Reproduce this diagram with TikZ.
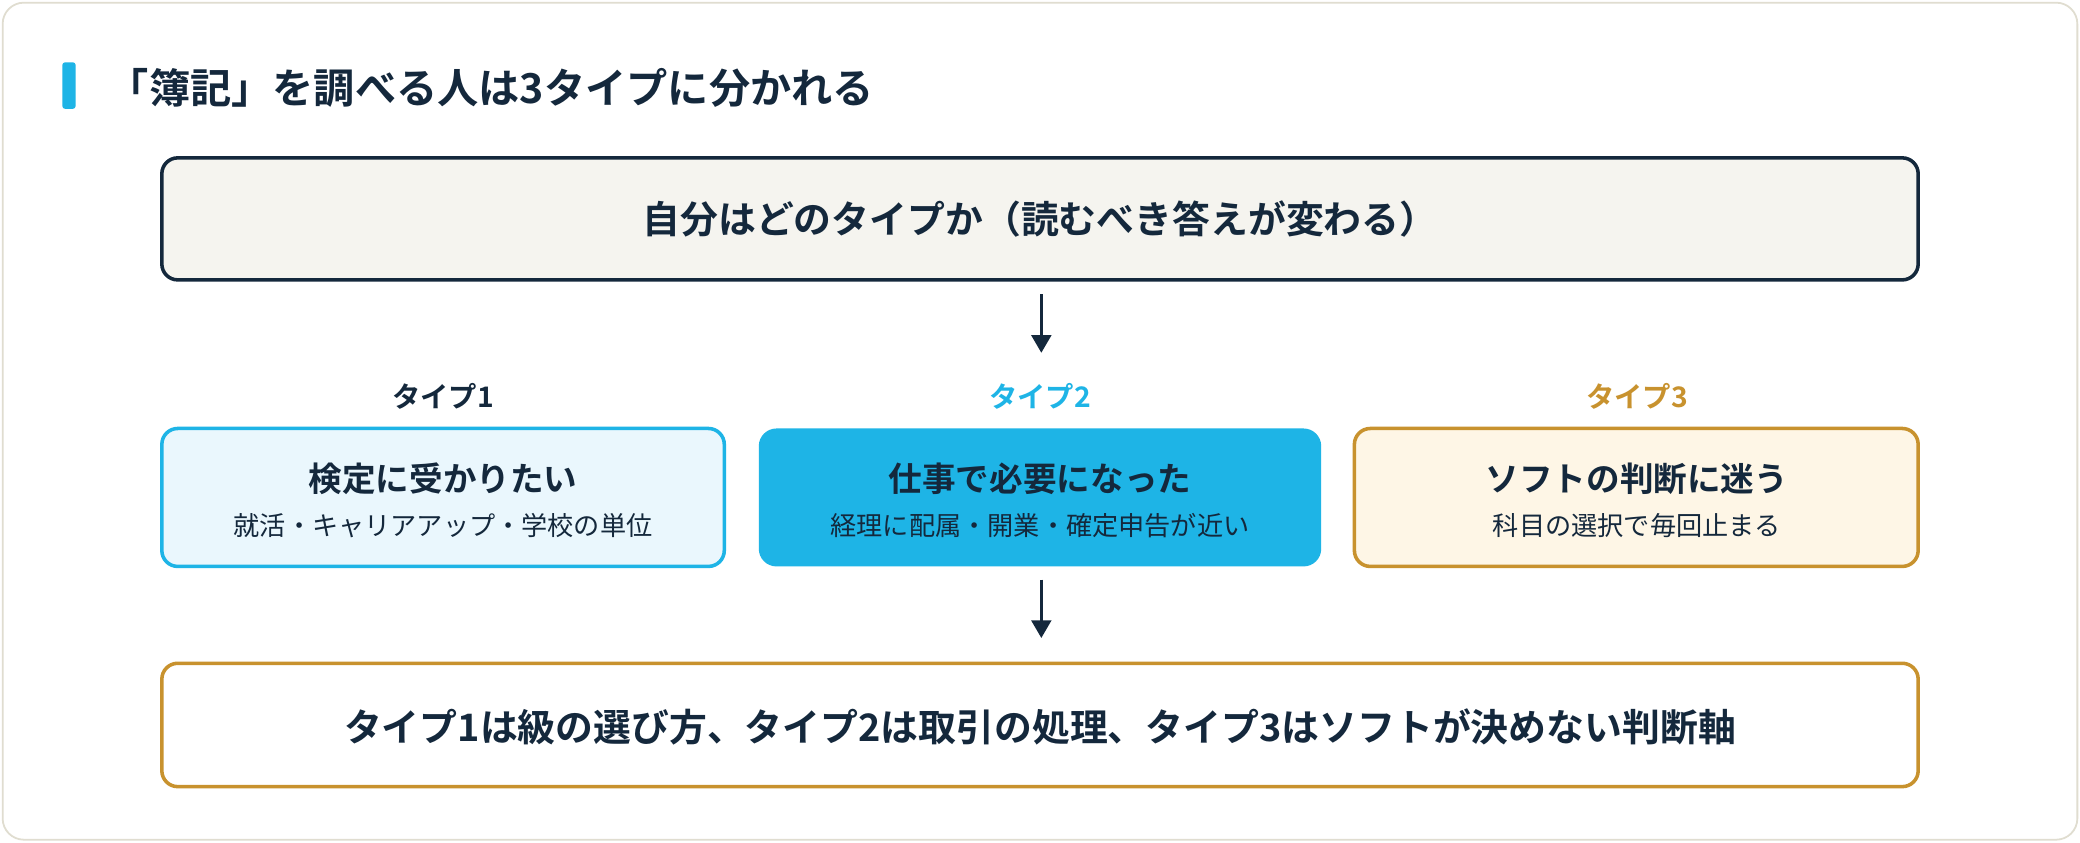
\documentclass[tikz,border=0pt]{standalone}
\usetikzlibrary{arrows.meta}
\usepackage{fontspec}
\setmainfont{Noto Sans CJK JP}
\newfontfamily\jpb{Noto Sans CJK JP Bold}
\definecolor{navy}{HTML}{14283C}
\definecolor{sky}{HTML}{1EB4E6}
\definecolor{gold}{HTML}{C8922E}
\definecolor{topfill}{HTML}{F5F4EF}
\definecolor{skyfill}{HTML}{EAF7FD}
\definecolor{goldfill}{HTML}{FEF6E6}
\begin{document}
\begin{tikzpicture}[x=0.75pt,y=-0.75pt,
  box/.style={rounded corners=9pt,line width=2pt,inner sep=0pt},
  arr/.style={navy,line width=2pt,-{Triangle[length=10pt,width=11pt]}},
  big/.style={font=\jpb\fontsize{21.4}{24}\selectfont,text=navy},
  mid/.style={font=\jpb\fontsize{19}{22}\selectfont,text=navy},
  small/.style={font=\fontsize{14.8}{17}\selectfont,text=navy},
  lab/.style={font=\jpb\fontsize{16}{18}\selectfont}]
\useasboundingbox (0,0) rectangle (1568,635);
\fill[white] (0,0) rectangle (1568,635);
\draw[draw={rgb,255:red,224;green,221;blue,208},line width=1pt,rounded corners=12pt,fill=white] (2,2) rectangle (1566,633);
\fill[sky,rounded corners=1.5pt] (47,47) rectangle (57,82);
\node[anchor=west,font=\jpb\fontsize{23.3}{26}\selectfont,text=navy,inner sep=0pt] (title) at (81,66) {「簿記」を調べる人は3タイプに分かれる};
% top
\draw[box,navy,fill=topfill] (122,119) rectangle (1446,211);
\node[big] (top) at (784,165) {自分はどのタイプか（読むべき答えが変わる）};
\coordinate (a1) at (785,222); \coordinate (a2) at (785,266);
\draw[arr] (a1) -- (a2);
% labels
\node[lab,text=navy] (l1) at (334,299) {タイプ1};
\node[lab,text=sky] (l2) at (784,299) {タイプ2};
\node[lab,text=gold] (l3) at (1234,299) {タイプ3};
% boxes
\draw[box,sky,fill=skyfill] (122,323) rectangle (546,427);
\node[mid] (t1) at (334,361) {検定に受かりたい};
\node[small] (s1) at (334,396) {就活・キャリアアップ・学校の単位};
\fill[sky,rounded corners=10pt] (572,323) rectangle (996,427);
\node[mid] (t2) at (784,361) {仕事で必要になった};
\node[small] (s2) at (784,396) {経理に配属・開業・確定申告が近い};
\draw[box,gold,fill=goldfill] (1021,323) rectangle (1446,427);
\node[mid] (t3) at (1234,361) {ソフトの判断に迷う};
\node[small] (s3) at (1234,396) {科目の選択で毎回止まる};
\coordinate (b1) at (785,437); \coordinate (b2) at (785,481);
\draw[arr] (b1) -- (b2);
% bottom
\draw[box,gold,fill=white] (122,500) rectangle (1446,593);
\node[big] (bot) at (784,548) {タイプ1は級の選び方、タイプ2は取引の処理、タイプ3はソフトが決めない判断軸};
\end{tikzpicture}
\end{document}
